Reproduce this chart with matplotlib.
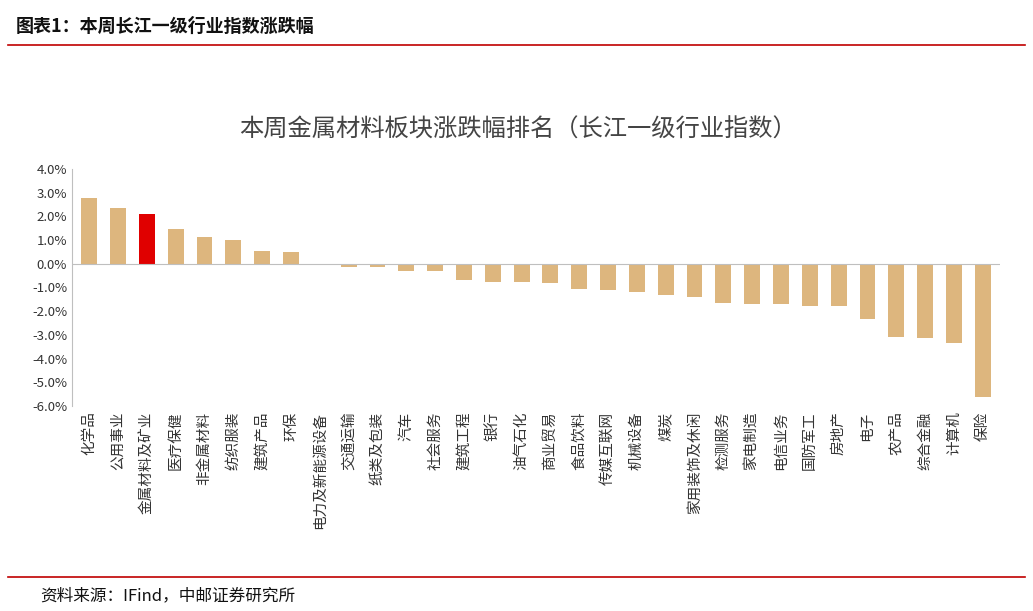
import matplotlib
matplotlib.use("Agg")
import matplotlib.pyplot as plt
from matplotlib.ticker import FuncFormatter, MultipleLocator

plt.rcParams['font.family'] = ['Noto Sans CJK SC', 'DejaVu Sans']

categories = ["化学品","公用事业","金属材料及矿业","医疗保健","非金属材料","纺织服装","建筑产品","环保",
              "电力及新能源设备","交通运输","纸类及包装","汽车","社会服务","建筑工程","银行","油气石化",
              "商业贸易","食品饮料","传媒互联网","机械设备","煤炭","家用装饰及休闲","检测服务","家电制造",
              "电信业务","国防军工","房地产","电子","农产品","综合金融","计算机","保险"]
values = [2.78,2.36,2.10,1.48,1.14,1.01,0.55,0.50,
          0.00,-0.15,-0.15,-0.30,-0.30,-0.68,-0.75,-0.75,
          -0.80,-1.05,-1.10,-1.20,-1.30,-1.38,-1.65,-1.70,
          -1.70,-1.78,-1.80,-2.35,-3.10,-3.15,-3.35,-5.60]
highlight = "金属材料及矿业"

W, H = 1033, 611
fig = plt.figure(figsize=(W/100, H/100), dpi=100)
fig.text(16/W, 1-26/H, "图表1：本周长江一级行业指数涨跌幅", fontsize=13, va='center', ha='left', color='#111111', fontweight='bold')
fig.add_artist(plt.Line2D([8/W, 1025/W], [1-45/H, 1-45/H], color='#C00000', lw=1.2))
fig.add_artist(plt.Line2D([8/W, 1025/W], [1-577/H, 1-577/H], color='#C00000', lw=1.2))
fig.text(40/W, 1-596/H, "资料来源：IFind，中邮证券研究所", fontsize=12, va='center', ha='left', color='#111111')

ax = fig.add_axes([72/W, 1-406/H, (1000-72)/W, (406-169)/H])
colors = ['#E00000' if c == highlight else '#DDB67E' for c in categories]
x = range(len(categories))
ax.bar(x, values, width=0.55, color=colors)
ax.set_ylim(-6, 4)
ax.set_xlim(-0.6, len(categories)-0.4)
ax.yaxis.set_major_locator(MultipleLocator(1))
ax.yaxis.set_major_formatter(FuncFormatter(lambda v, p: f"{v:.1f}%"))
ax.tick_params(axis='y', labelsize=9.5, colors='#333333', length=0)
ax.set_xticks(list(x))
ax.set_xticklabels(categories, rotation=90, fontsize=10.5, color='#333333')
ax.tick_params(axis='x', length=0, pad=4)
for s in ['top', 'right', 'bottom']:
    ax.spines[s].set_visible(False)
ax.spines['left'].set_color('#BFBFBF')
ax.axhline(0, color='#BFBFBF', lw=0.8)
fig.text(518/W, 1-130/H, "本周金属材料板块涨跌幅排名（长江一级行业指数）", fontsize=17.5, ha='center', va='center', color='#444444')
fig.savefig("out.png", dpi=100)
